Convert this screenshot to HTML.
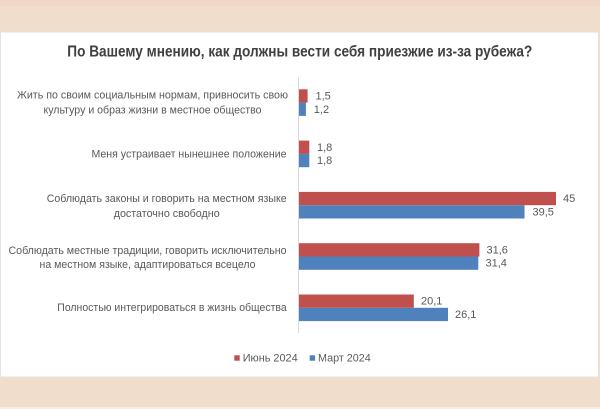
<!DOCTYPE html>
<html>
<head>
<meta charset="utf-8">
<style>
html,body{margin:0;padding:0;background:#f1ddcb;}
svg{display:block;}
text{font-family:"Liberation Sans","DejaVu Sans",sans-serif;}
</style>
</head>
<body>
<svg width="600" height="409" viewBox="0 0 600 409" xmlns="http://www.w3.org/2000/svg">
  <!-- background bands -->
  <rect x="0" y="0" width="600" height="409" fill="#f1ddcb"/>
  <rect x="0" y="0" width="600" height="6" fill="#efd9c6"/>
  <rect x="0" y="407" width="600" height="2" fill="#f7ede4"/>
  <!-- white panel -->
  <rect x="0.5" y="32" width="598" height="345" fill="#ffffff" stroke="#e2e2e2" stroke-width="1"/>

  <!-- title -->
  <text x="67.3" y="56.7" font-size="16" font-weight="bold" fill="#404040" textLength="465" lengthAdjust="spacingAndGlyphs">По Вашему мнению, как должны вести себя приезжие из-за рубежа?</text>

  <!-- axis -->
  <line x1="298.5" y1="77" x2="298.5" y2="333" stroke="#d9d9d9" stroke-width="1"/>

  <!-- bars group 1 -->
  <rect x="299" y="89.3" width="8.6" height="13.3" fill="#c0504d"/>
  <rect x="299" y="102.6" width="6.9" height="13.3" fill="#4f81bd"/>
  <!-- group 2 -->
  <rect x="299" y="140.6" width="10.3" height="13.3" fill="#c0504d"/>
  <rect x="299" y="153.9" width="10.3" height="13.3" fill="#4f81bd"/>
  <!-- group 3 -->
  <rect x="299" y="191.9" width="257" height="13.3" fill="#c0504d"/>
  <rect x="299" y="205.2" width="225.5" height="13.3" fill="#4f81bd"/>
  <!-- group 4 -->
  <rect x="299" y="243.2" width="180.4" height="13.3" fill="#c0504d"/>
  <rect x="299" y="256.5" width="179.3" height="13.3" fill="#4f81bd"/>
  <!-- group 5 -->
  <rect x="299" y="294.5" width="114.8" height="13.3" fill="#c0504d"/>
  <rect x="299" y="307.8" width="149" height="13.3" fill="#4f81bd"/>

  <!-- value labels -->
  <g font-size="11" fill="#595959">
    <text x="315.5" y="99.5">1,5</text>
    <text x="313.8" y="112.8">1,2</text>
    <text x="317" y="150.8">1,8</text>
    <text x="317" y="164.1">1,8</text>
    <text x="563" y="202.1">45</text>
    <text x="532.5" y="215.4">39,5</text>
    <text x="486.5" y="253.4">31,6</text>
    <text x="485.5" y="266.7">31,4</text>
    <text x="421" y="304.7">20,1</text>
    <text x="455" y="318">26,1</text>
  </g>

  <!-- category labels -->
  <g font-size="11" fill="#595959" text-anchor="middle">
    <text x="152.5" y="98.5" textLength="271" lengthAdjust="spacingAndGlyphs">Жить по своим социальным нормам, привносить свою</text>
    <text x="152.5" y="113.5" textLength="218" lengthAdjust="spacingAndGlyphs">культуру и образ жизни в местное общество</text>

    <text x="189" y="157.5" textLength="195" lengthAdjust="spacingAndGlyphs">Меня устраивает нынешнее положение</text>

    <text x="166.7" y="201.8" textLength="240" lengthAdjust="spacingAndGlyphs">Соблюдать законы и говорить на местном языке</text>
    <text x="166.7" y="216.8" textLength="106" lengthAdjust="spacingAndGlyphs">достаточно свободно</text>

    <text x="147.5" y="253.8" textLength="278" lengthAdjust="spacingAndGlyphs">Соблюдать местные традиции, говорить исключительно</text>
    <text x="147.5" y="267.8" textLength="216" lengthAdjust="spacingAndGlyphs">на местном языке, адаптироваться всецело</text>

    <text x="172" y="311" textLength="229.4" lengthAdjust="spacingAndGlyphs">Полностью интегрироваться в жизнь общества</text>
  </g>

  <!-- legend -->
  <rect x="234.3" y="355.3" width="5.4" height="5.4" fill="#c0504d"/>
  <text x="242.7" y="361.3" font-size="11" fill="#595959" textLength="55" lengthAdjust="spacingAndGlyphs">Июнь 2024</text>
  <rect x="309.7" y="355.3" width="5.4" height="5.4" fill="#4f81bd"/>
  <text x="318" y="361.3" font-size="11" fill="#595959" textLength="52.7" lengthAdjust="spacingAndGlyphs">Март 2024</text>
</svg>
</body>
</html>
